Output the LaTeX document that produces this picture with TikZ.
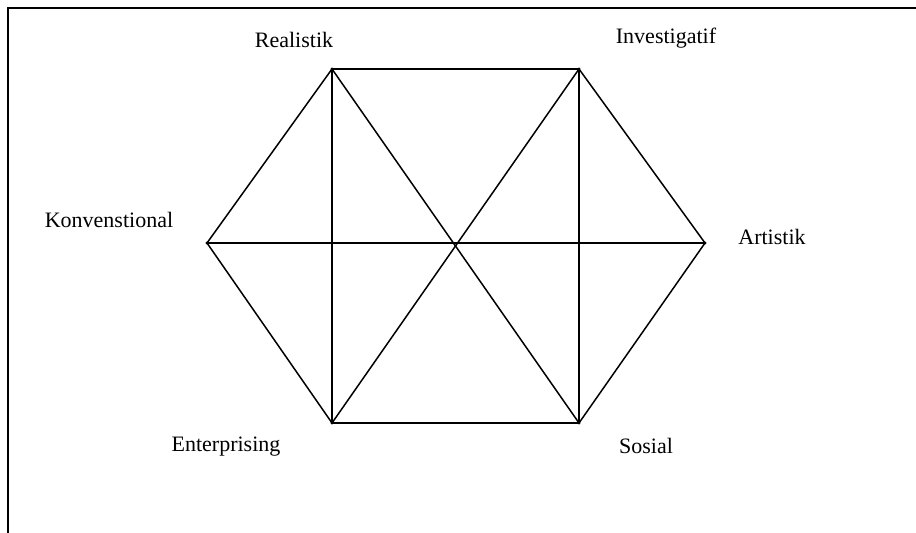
\documentclass[tikz,border=0pt]{standalone}
\usepackage{fontspec}
\setmainfont{Liberation Serif}
\tikzset{
  garis/.style={line width=0.75pt},
  label/.style={font=\fontsize{11}{13}\selectfont, inner sep=0pt},
  titik/.style={circle, fill=black, inner sep=0pt, minimum size=1.6pt}
}

\begin{document}
\begin{tikzpicture}[x=0.5pt, y=-0.5pt]
    \useasboundingbox (0,0) rectangle (916,533);
    % First, the frame
        \draw [line width=1pt] (8,533) -- (8,8.5) -- (916,8.5);

    % Then locate each of the corners and name them
        \node[titik] (real) at (332,69) {};
        \node[titik] (inv) at (579,69) {};
        \node[titik] (art) at (705,243) {};
        \node[titik] (sos) at (579,423) {};
        \node[titik] (ent) at (332,423) {};
        \node[titik] (konv) at (207,243) {};

    % The labels
        \node[label] (lreal) at (294,40) {Realistik};
        \node[label] (linv) at (666,38) {Investigatif};
        \node[label] (lkonv) at (109,220) {Konvenstional};
        \node[label] (lart) at (772,237) {Artistik};
        \node[label] (lent) at (226,447) {Enterprising};
        \node[label] (lsos) at (646,446) {Sosial};

    % Now draw the lines:
        \draw [garis] (real.center) -- (inv.center);
        \draw [garis] (inv.center) -- (art.center);
        \draw [garis] (art.center) -- (sos.center);
        \draw [garis] (sos.center) -- (ent.center);
        \draw [garis] (ent.center) -- (konv.center);
        \draw [garis] (konv.center) -- (real.center);
        \draw [garis] (real.center) -- (ent.center);
        \draw [garis] (inv.center) -- (sos.center);
        \draw [garis] (real.center) -- (sos.center);
        \draw [garis] (inv.center) -- (ent.center);
        \draw [garis] (konv.center) -- (art.center);
    \end{tikzpicture}
\end{document}
